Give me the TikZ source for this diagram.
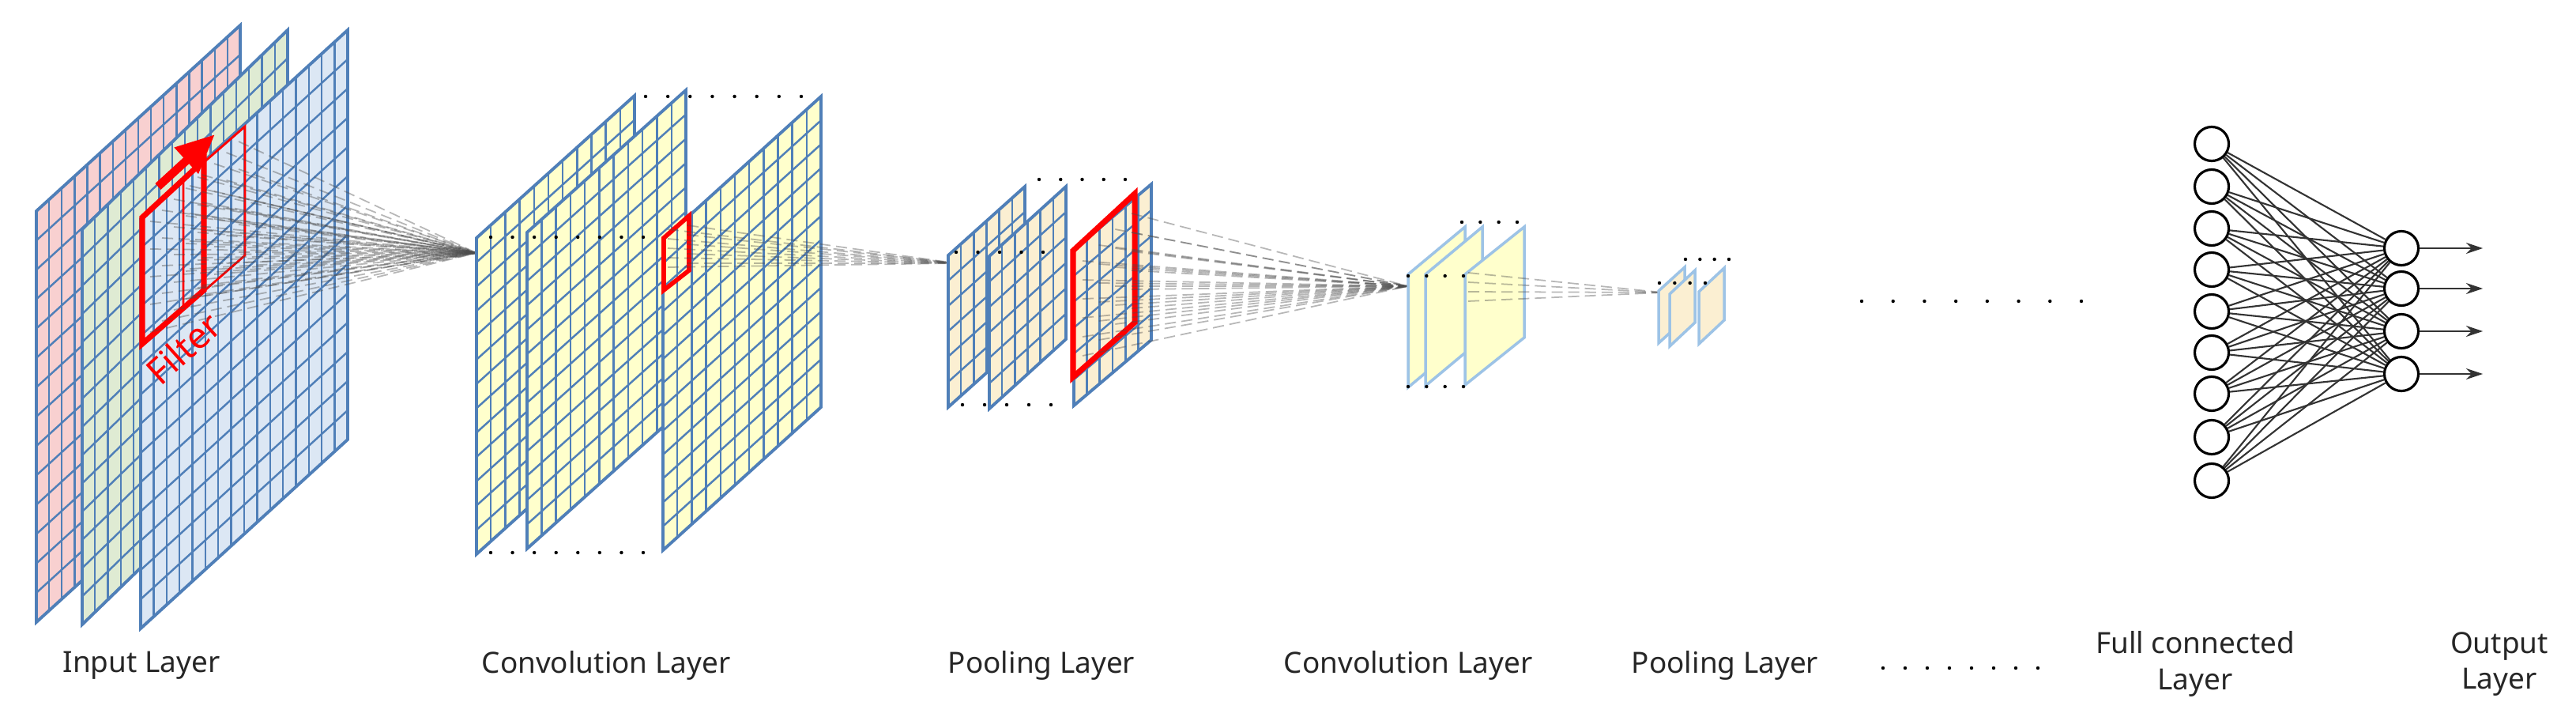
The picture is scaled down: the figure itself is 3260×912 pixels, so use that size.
\documentclass[tikz,border=0pt]{standalone}
\usepackage{fontspec}
\setmainfont{Noto Sans}
\usetikzlibrary{arrows.meta}
\definecolor{gl}{HTML}{4F7FB8}
\definecolor{lb}{HTML}{9DC3E6}
\definecolor{pr}{HTML}{F8D0D0}
\definecolor{pg}{HTML}{DFEBD3}
\definecolor{pb}{HTML}{DCE7F4}
\definecolor{cy}{HTML}{FFFFCC}
\definecolor{pw}{HTML}{FBEFD2}
\newcommand\gplane[9]{%
  \filldraw[fill=#8,draw=#9,line width=1.1pt] (#1,#2) -- ++(#3,-#5) -- ++(0,#4) -- ++(-#3,#5) -- cycle;
  \foreach \i in {1,...,#6}{\draw[#9,line width=0.7pt] ({#1+\i*#3/#6},{#2-\i*#5/#6}) -- ++(0,#4);}
  \foreach \j in {1,...,#7}{\draw[#9,line width=0.7pt] ({#1},{#2+\j*#4/#7}) -- ++(#3,-#5);}
}
% x, top-left y, width, height, skew, fill
\newcommand\splane[6]{%
  \filldraw[fill=#6,draw=lb,line width=1pt] (#1,#2) -- ++(#3,-#5) -- ++(0,#4) -- ++(-#3,#5) -- cycle;}
\newcommand\dotrow[4]{\foreach \k in {0,...,#4}{\fill ({#1+\k*(#3-#1)/#4},#2) circle (2.2);}}
\tikzset{
  fan/.style={black!70,line width=0.5pt,dash pattern=on 4pt off 2pt,opacity=0.4},
  lab/.style={font=\fontsize{10.5}{13}\selectfont,align=center,text=black!85},
  neuron/.style={circle,draw,line width=0.9pt,minimum size=0.43cm,inner sep=0,fill=white},
  syn/.style={black!80,line width=0.6pt}
}
\begin{document}
\begin{tikzpicture}[x=0.01cm,y=-0.01cm]
\useasboundingbox (0,0) rectangle (3260,912);
% input layer
\gplane{46}{267}{258}{520}{235}{16}{14}{pr}{gl}
\gplane{104}{290}{260}{500}{252}{16}{14}{pg}{gl}
\gplane{178}{277}{262}{518}{239}{16}{14}{pb}{gl}
\draw[red,line width=0.8pt] (232,228) -- (310,160) -- (310,323) -- (232,391) -- cycle;
\draw[red,line width=2pt] (180,275) -- (258,203) -- (258,367) -- (180,435) -- cycle;
\draw[red,line width=3pt,-{Triangle[length=14pt,width=12pt]}] (200,236) -- (272,170);
\node[red,rotate=42,font=\fontsize{13}{13}\selectfont] (filt) at (232,440) {Filter};
% conv layer 1
\coordinate (c1) at (603,320);
\foreach \i in {0,...,4}{\foreach \j in {0,...,4}{
  \draw[fan] ({190+\i*60/4},{280-\i*56/4+\j*140/4}) -- (c1);
  \draw[fan] ({240+\i*62/4},{235-\i*56/4+\j*140/4}) -- (c1);}}
\gplane{603}{301}{200}{400}{180}{11}{13}{cy}{gl}
\gplane{667}{294}{201}{400}{180}{11}{13}{cy}{gl}
\gplane{839}{303}{200}{393}{181}{11}{13}{cy}{gl}
\dotrow{621}{300}{814}{7}
\dotrow{817}{122}{1014}{7}
\dotrow{621}{699}{814}{7}
\draw[red,line width=1.6pt] (840,301) -- (872,273) -- (872,342) -- (840,367) -- cycle;
% pooling 1
\coordinate (p1) at (1210,333);
\foreach \j in {0,...,4}{\draw[fan] (845,{290+\j*12}) -- (p1); \draw[fan] (870,{285+\j*12}) -- (p1);}
\gplane{1200}{323}{97}{192}{87}{6}{6}{pw}{gl}
\gplane{1252}{324}{97}{193}{88}{6}{6}{pw}{gl}
\gplane{1359}{316}{98}{197}{83}{6}{6}{pw}{gl}
\draw[red,line width=2pt] (1358,317) -- (1436,245) -- (1436,408) -- (1358,477) -- cycle;
\dotrow{1315}{227}{1424}{4}
\dotrow{1210}{319}{1320}{4}
\dotrow{1218}{512}{1330}{4}
% conv 2
\coordinate (c2) at (1782,362);
\foreach \i in {0,...,3}{\foreach \j in {0,...,5}{
  \draw[fan] ({1370+\i*62/3},{330-\i*60/3+\j*120/5}) -- (c2);}}
\splane{1782}{347}{72}{143}{60}{cy}
\splane{1804}{347}{72}{141}{60}{cy}
\splane{1854}{347}{75}{140}{60}{cy}
\dotrow{1850}{281}{1920}{3}
\dotrow{1782}{349}{1852}{3}
\dotrow{1782}{489}{1852}{3}
% pooling 2
\coordinate (p2) at (2104,370);
\foreach \j in {0,...,3}{\draw[fan] (1858,{345+\j*12}) -- (p2);}
\splane{2099}{368}{33}{66}{30}{pw}
\splane{2113}{372}{32}{66}{30}{pw}
\splane{2150}{369}{32}{66}{30}{pw}
\dotrow{2133}{328}{2188}{3}
\dotrow{2100}{358}{2158}{3}
% middle dots
\dotrow{2356}{381}{2634}{7}
% FC
\foreach \k/\yy in {1/182,2/236,3/289,4/341,5/394,6/446,7/498,8/553,9/608}{\node[neuron] (f\k) at (2799,\yy) {};}
\foreach \k/\yy in {1/314,2/365,3/419,4/473}{\node[neuron] (o\k) at (3039,\yy) {};
  \coordinate (e\k) at (3142,\yy);
  \draw[syn,-{Stealth[length=6pt,width=4pt]}] (o\k) -- (e\k);}
\foreach \a in {1,...,9}{\foreach \b in {1,...,4}{\draw[syn] (f\a) -- (o\b);}}
% labels
\node[lab] (l1) at (179,842) {Input Layer};
\node[lab] (l2) at (767,842) {Convolution Layer};
\node[lab] (l3) at (1318,842) {Pooling Layer};
\node[lab] (l4) at (1782,842) {Convolution Layer};
\node[lab] (l5) at (2183,842) {Pooling Layer};
\dotrow{2383}{845}{2579}{7}
\node[lab] (l6) at (2778,840) {Full connected\\Layer};
\node[lab] (l7) at (3163,840) {Output\\Layer};
\end{tikzpicture}
\end{document}
